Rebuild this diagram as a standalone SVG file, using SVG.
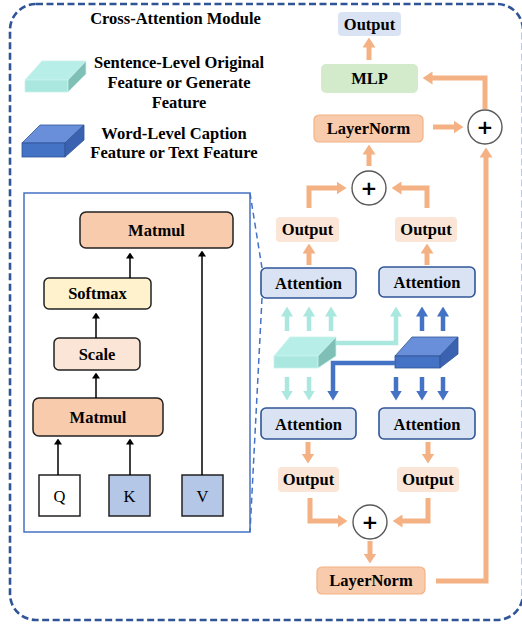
<svg xmlns="http://www.w3.org/2000/svg" width="522" height="625" viewBox="0 0 522 625">
<style>
text{font-family:"Liberation Serif","Times New Roman",serif;fill:#000;text-anchor:middle}
.b{font-weight:bold;font-size:16.5px}
.r{font-size:16.5px}
.att{fill:#DAE3F3;stroke:#2F5597;stroke-width:1.6}
.out{fill:#FBE5D6}
.ln{fill:#F8CBAD;stroke:#F4B183;stroke-width:1.2}
.pl{fill:#fff;stroke:#595959;stroke-width:1.4}
.ps{font-family:"DejaVu Sans","Liberation Sans",sans-serif;font-weight:bold;font-size:20px}
.blk{stroke:#222;stroke-width:1.5}
.o{fill:none;stroke:#F4B183;stroke-width:5}
.c{fill:none;stroke:#A9E7DF;stroke-width:4.5}
.u{fill:none;stroke:#4472C4;stroke-width:4.5}
.k{fill:none;stroke:#000;stroke-width:1.5}
</style>
<defs>
<marker id="mo" markerUnits="userSpaceOnUse" viewBox="0 0 10 13" refX="0.5" refY="6.5" markerWidth="10" markerHeight="13" orient="auto"><path d="M0,0 L10,6.5 L0,13 z" fill="#F4B183"/></marker>
<marker id="mc" markerUnits="userSpaceOnUse" viewBox="0 0 10 12" refX="0.5" refY="6" markerWidth="10" markerHeight="12" orient="auto"><path d="M0,0 L10,6 L0,12 z" fill="#A9E7DF"/></marker>
<marker id="mu" markerUnits="userSpaceOnUse" viewBox="0 0 10 12" refX="0.5" refY="6" markerWidth="10" markerHeight="12" orient="auto"><path d="M0,0 L10,6 L0,12 z" fill="#4472C4"/></marker>
<marker id="mk" markerUnits="userSpaceOnUse" viewBox="0 0 6 8" refX="0.5" refY="4" markerWidth="6" markerHeight="8" orient="auto"><path d="M0,0 L6,4 L0,8 z" fill="#000"/></marker>
</defs>

<rect id="module-frame" x="10" y="4" width="513" height="616" rx="26" fill="none" stroke="#2F5597" stroke-width="2.6" stroke-dasharray="7 3.5"/>
<text class="b" x="175.5" y="24">Cross-Attention Module</text>

<g id="legend-sentence">
<polygon points="25,80 68,80 86,61 42,61" fill="#B7EEE7" stroke="#C8F2EC" stroke-width="0.8"/>
<rect x="25" y="80" width="43" height="12" fill="#A9E7DF" stroke="#C8F2EC" stroke-width="0.8"/>
<polygon points="68,80 86,61 86,74 68,92" fill="#7FBFB6" stroke="#C8F2EC" stroke-width="0.8"/>
<text class="b" x="179" y="68">Sentence-Level Original</text>
<text class="b" x="179" y="88">Feature or Generate</text>
<text class="b" x="179" y="107.5">Feature</text>
</g>
<g id="legend-word">
<polygon points="22,143 65,143 84,125 40,125" fill="#6A8FDA" stroke="#2F5597" stroke-width="0.8"/>
<rect x="22" y="143" width="43" height="14" fill="#4472C4" stroke="#2F5597" stroke-width="0.8"/>
<polygon points="65,143 84,125 84,140 65,157" fill="#3A62B0" stroke="#2F5597" stroke-width="0.8"/>
<text class="b" x="174" y="138.5">Word-Level Caption</text>
<text class="b" x="174" y="158">Feature or Text Feature</text>
</g>

<g id="attention-detail">
<rect x="24" y="193" width="226" height="339" fill="none" stroke="#4472C4" stroke-width="1.5"/>
<g id="matmul-top"><rect class="blk" x="80" y="212" width="153" height="36" rx="6" fill="#F8CBAD"/><text class="b" x="156.5" y="236">Matmul</text></g>
<g id="softmax"><rect class="blk" x="44" y="278" width="107" height="31" rx="5" fill="#FFF2CC"/><text class="b" x="97.5" y="299">Softmax</text></g>
<g id="scale"><rect class="blk" x="54" y="338" width="86" height="32" rx="5" fill="#FBE5D6"/><text class="b" x="97" y="359.5">Scale</text></g>
<g id="matmul-bottom"><rect class="blk" x="33" y="398" width="130" height="38" rx="6" fill="#F8CBAD"/><text class="b" x="98" y="422.5">Matmul</text></g>
<g id="q"><rect class="blk" x="39" y="475" width="41" height="41" fill="#fff"/><text class="r" x="59.5" y="501.5">Q</text></g>
<g id="k"><rect class="blk" x="109" y="475" width="41" height="41" fill="#B4C7E7"/><text class="r" x="129.5" y="501.5">K</text></g>
<g id="v"><rect class="blk" x="182" y="475" width="41" height="41" fill="#B4C7E7"/><text class="r" x="202.5" y="501.5">V</text></g>
</g>

<g id="attn-ul"><rect class="att" x="261" y="268" width="95" height="30" rx="5"/><text class="b" x="308.5" y="289">Attention</text></g>
<g id="attn-ur"><rect class="att" x="379" y="267" width="96" height="30" rx="5"/><text class="b" x="427" y="288">Attention</text></g>
<g id="attn-ll"><rect class="att" x="261" y="408" width="95" height="31" rx="5"/><text class="b" x="308.5" y="429.5">Attention</text></g>
<g id="attn-lr"><rect class="att" x="379" y="408" width="96" height="31" rx="5"/><text class="b" x="427" y="429.5">Attention</text></g>

<g id="out-ul"><rect class="out" x="276" y="217" width="63" height="25" rx="4"/><text class="b" x="307.5" y="235">Output</text></g>
<g id="out-ur"><rect class="out" x="395" y="217" width="62" height="25" rx="4"/><text class="b" x="426" y="235">Output</text></g>
<g id="out-ll"><rect class="out" x="278" y="467" width="61" height="25" rx="4"/><text class="b" x="308.5" y="485">Output</text></g>
<g id="out-lr"><rect class="out" x="397" y="467" width="62" height="25" rx="4"/><text class="b" x="428" y="485">Output</text></g>

<g id="plus-top"><circle class="pl" cx="369" cy="188" r="17"/><text class="ps" x="369" y="195">+</text></g>
<g id="plus-right"><circle class="pl" cx="485" cy="127" r="17"/><text class="ps" x="485" y="134">+</text></g>
<g id="plus-bottom"><circle class="pl" cx="370" cy="522" r="17"/><text class="ps" x="370" y="529">+</text></g>

<g id="layernorm-top"><rect class="ln" x="314" y="115" width="109" height="27" rx="5"/><text class="b" x="368.5" y="134">LayerNorm</text></g>
<g id="layernorm-bottom"><rect class="ln" x="317" y="567" width="108" height="27" rx="5" stroke="none"/><text class="b" x="371" y="586">LayerNorm</text></g>
<g id="mlp"><rect x="321" y="64" width="97" height="29" rx="5" fill="#D3EBCB"/><text class="b" x="369.5" y="84">MLP</text></g>
<g id="output-top"><rect x="338" y="12" width="63" height="24" rx="4" fill="#DAE3F3"/><text class="b" x="369.5" y="30">Output</text></g>

<g id="feature-sentence">
<polygon points="274,356 318,356 336,337 290,337" fill="#B7EEE7" stroke="#C8F2EC" stroke-width="0.8"/>
<rect x="274" y="356" width="44" height="12" fill="#A9E7DF" stroke="#C8F2EC" stroke-width="0.8"/>
<polygon points="318,356 336,337 336,356 318,368" fill="#7FBFB6" stroke="#C8F2EC" stroke-width="0.8"/>
</g>
<g id="feature-word">
<polygon points="395,356 440,356 458,337 412,337" fill="#6A8FDA" stroke="#2F5597" stroke-width="0.8"/>
<rect x="395" y="356" width="45" height="12" fill="#4472C4" stroke="#2F5597" stroke-width="0.8"/>
<polygon points="440,356 458,337 458,354 440,368" fill="#3A62B0" stroke="#2F5597" stroke-width="0.8"/>
</g>

<g id="connectors">
<path d="M250,193 L262,268 M262,298 L250,532" fill="none" stroke="#4472C4" stroke-width="1.5" stroke-dasharray="6 4"/>
<path class="k" d="M130,278 V258" marker-end="url(#mk)"/>
<path class="k" d="M96,338 V318" marker-end="url(#mk)"/>
<path class="k" d="M96,398 V378" marker-end="url(#mk)"/>
<path class="k" d="M58,475 V444" marker-end="url(#mk)"/>
<path class="k" d="M130,475 V444" marker-end="url(#mk)"/>
<path class="k" d="M202,475 V256" marker-end="url(#mk)"/>

<path class="c" d="M287,331 V316" marker-end="url(#mc)"/>
<path class="c" d="M309,331 V316" marker-end="url(#mc)"/>
<path class="c" d="M331,331 V316" marker-end="url(#mc)"/>
<path class="c" d="M336,343 H396 V316" marker-end="url(#mc)"/>
<path class="u" d="M422,331 V316" marker-end="url(#mu)"/>
<path class="u" d="M443,331 V316" marker-end="url(#mu)"/>
<path class="c" d="M287,377 V391" marker-end="url(#mc)"/>
<path class="c" d="M309,377 V391" marker-end="url(#mc)"/>
<path class="u" d="M395,363 H333 V391" marker-end="url(#mu)"/>
<path class="u" d="M396,377 V391" marker-end="url(#mu)"/>
<path class="u" d="M422,377 V391" marker-end="url(#mu)"/>
<path class="u" d="M443,377 V391" marker-end="url(#mu)"/>

<path class="o" d="M309,265 V253" marker-end="url(#mo)"/>
<path class="o" d="M427,265 V253" marker-end="url(#mo)"/>
<path class="o" d="M309,208 V188 H337" marker-end="url(#mo)"/>
<path class="o" d="M427,208 V188 H401" marker-end="url(#mo)"/>
<path class="o" d="M369,166 V154" marker-end="url(#mo)"/>
<path class="o" d="M433,127 H454" marker-end="url(#mo)"/>
<path class="o" d="M485,109 V78 H432" marker-end="url(#mo)"/>
<path class="o" d="M369,60 V47" marker-end="url(#mo)"/>
<path class="o" d="M436,581 H486 V157" marker-end="url(#mo)"/>
<path class="o" d="M308,442 V454" marker-end="url(#mo)"/>
<path class="o" d="M428,442 V454" marker-end="url(#mo)"/>
<path class="o" d="M310,498 V521 H338" marker-end="url(#mo)"/>
<path class="o" d="M428,498 V521 H402" marker-end="url(#mo)"/>
<path class="o" d="M370,541 V554" marker-end="url(#mo)"/>
</g>
</svg>
